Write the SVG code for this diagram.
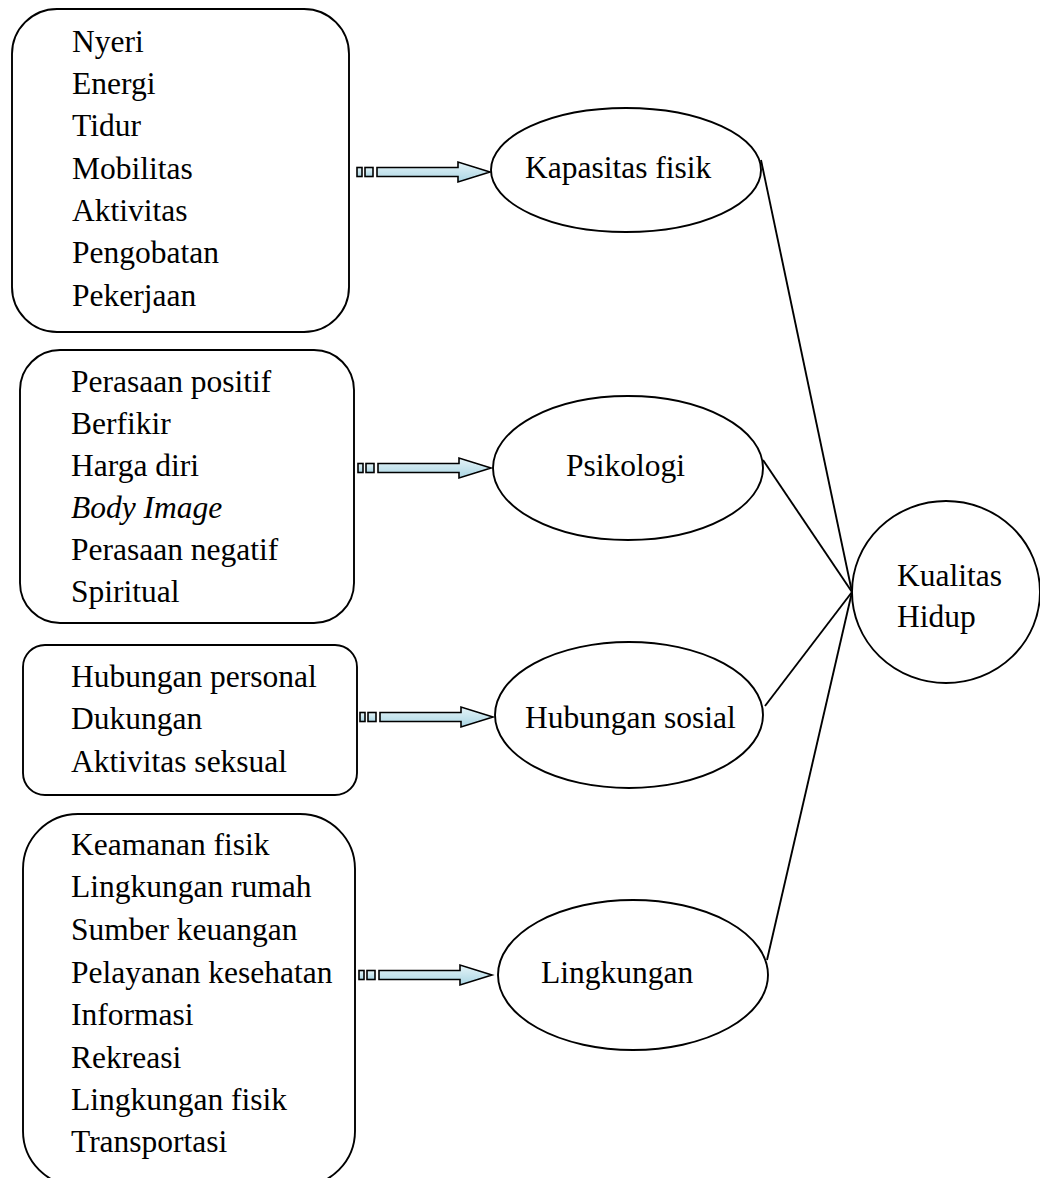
<svg xmlns="http://www.w3.org/2000/svg" width="1040" height="1178" viewBox="0 0 1040 1178">
<defs>
<linearGradient id="ag" x1="0" y1="0" x2="0" y2="1">
<stop offset="0" stop-color="#e6f4f8"/>
<stop offset="1" stop-color="#a9d5e3"/>
</linearGradient>
<g id="arrow">
<rect x="0" y="-4.5" width="5" height="9"/>
<rect x="8" y="-4.5" width="8" height="9"/>
<path d="M20,-4.5 H101 V-10 L133,0 L101,10 V4.5 H20 Z"/>
</g>
</defs>
<style>
text{font-family:"Liberation Serif","Times New Roman",serif;font-size:31.5px;fill:#000}
.box,.ell{fill:#fff;stroke:#000;stroke-width:1.9}
.arr{fill:url(#ag);stroke:#000;stroke-width:1.6;stroke-linejoin:miter}
.con{stroke:#000;stroke-width:1.9;fill:none}
</style>
<rect width="1040" height="1178" fill="#fff"/>

<g id="connectors">
<line class="con" x1="761" y1="160" x2="852" y2="592"/>
<line class="con" x1="763" y1="460" x2="852" y2="592"/>
<line class="con" x1="765" y1="706" x2="852" y2="592"/>
<line class="con" x1="767" y1="960" x2="852" y2="592"/>
<use href="#arrow" class="arr" transform="translate(357,172)"/>
<use href="#arrow" class="arr" transform="translate(358,468)"/>
<use href="#arrow" class="arr" transform="translate(360,717)"/>
<use href="#arrow" class="arr" transform="translate(359,975)"/>
</g>

<g id="box-fisik">
<rect class="box" x="12" y="9" width="337" height="323" rx="45" ry="45"/>
<text x="72" y="52">Nyeri</text>
<text x="72" y="94">Energi</text>
<text x="72" y="136">Tidur</text>
<text x="72" y="179">Mobilitas</text>
<text x="72" y="221">Aktivitas</text>
<text x="72" y="263">Pengobatan</text>
<text x="72" y="306">Pekerjaan</text>
</g>

<g id="box-psikologi">
<rect class="box" x="20" y="350" width="334" height="273" rx="40" ry="40"/>
<text x="71" y="392">Perasaan positif</text>
<text x="71" y="434">Berfikir</text>
<text x="71" y="476">Harga diri</text>
<text x="71" y="518" font-style="italic">Body Image</text>
<text x="71" y="560">Perasaan negatif</text>
<text x="71" y="602">Spiritual</text>
</g>

<g id="box-sosial">
<rect class="box" x="23" y="645" width="334" height="150" rx="22" ry="22"/>
<text x="71" y="687">Hubungan personal</text>
<text x="71" y="729">Dukungan</text>
<text x="71" y="772">Aktivitas seksual</text>
</g>

<g id="box-lingkungan">
<rect class="box" x="23" y="814" width="332" height="372" rx="55" ry="55"/>
<text x="71" y="855">Keamanan fisik</text>
<text x="71" y="897">Lingkungan rumah</text>
<text x="71" y="940">Sumber keuangan</text>
<text x="71" y="983">Pelayanan kesehatan</text>
<text x="71" y="1025">Informasi</text>
<text x="71" y="1068">Rekreasi</text>
<text x="71" y="1110">Lingkungan fisik</text>
<text x="71" y="1152">Transportasi</text>
</g>

<g id="node-kapasitas">
<ellipse class="ell" cx="626" cy="170" rx="135" ry="62"/>
<text x="525" y="178">Kapasitas fisik</text>
</g>

<g id="node-psikologi">
<ellipse class="ell" cx="628" cy="468" rx="135" ry="72"/>
<text x="566" y="476">Psikologi</text>
</g>

<g id="node-sosial">
<ellipse class="ell" cx="629" cy="715" rx="134" ry="73"/>
<text x="525" y="728">Hubungan sosial</text>
</g>

<g id="node-lingkungan">
<ellipse class="ell" cx="633" cy="975" rx="135" ry="75"/>
<text x="541" y="983">Lingkungan</text>
</g>

<g id="node-kualitas">
<ellipse class="ell" cx="946" cy="592" rx="94" ry="91"/>
<text x="897" y="586">Kualitas</text>
<text x="897" y="627">Hidup</text>
</g>
</svg>
